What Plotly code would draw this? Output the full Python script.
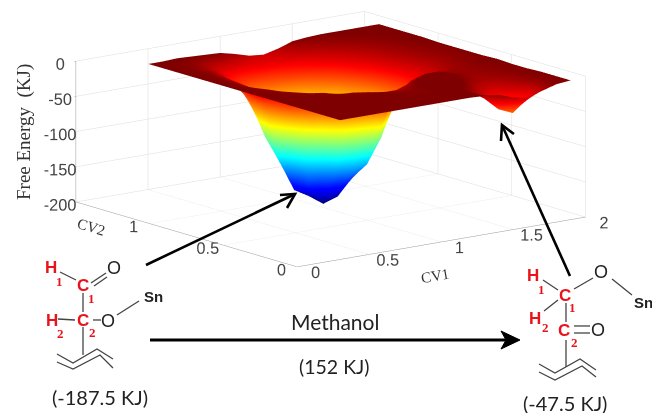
import plotly.graph_objects as go

CV1 = [0.4,0.5,0.6,0.7,0.8,0.9,1.0,1.1,1.2,1.3,1.4,1.5,1.6,1.7,1.8,1.9,2.0]
CV2 = [0.1,0.2,0.3,0.4,0.5,0.6,0.7,0.8,0.9,1.0,1.1,1.2,1.3,1.4]
FREE_ENERGY = [
 [-12,-12,-12,-12,-12,-12,-12,-12,-12,-12,-13,-15,-22,-26,-20,-14,-12],
 [-12,-12,-12,-12,-12,-12,-12,-12,-12,-12,-13,-26,-45,-54,-36,-15,-12],
 [-12,-12,-12,-12,-12,-12,-12,-13,-13,-11,-10,-15,-26,-30,-22,-14,-12],
 [-12,-12,-12,-12,-12,-12,-12,-14,-15,-10,-5,-8,-16,-20,-17,-14,-13],
 [-12,-12,-12,-12,-14,-15,-18,-22,-22,-15,-6,-6,-13,-17,-16,-14,-13],
 [-12,-12,-13,-15,-18,-26,-40,-58,-78,-40,-22,-18,-18,-17,-16,-13,-12],
 [-12,-13,-15,-20,-35,-75,-130,-145,-140,-105,-50,-45,-31,-23,-17,-14,-13],
 [-12,-13,-18,-32,-85,-165,-195,-188,-165,-115,-77,-52,-35,-25,-19,-15,-13],
 [-12,-14,-22,-50,-135,-178,-190,-180,-165,-125,-75,-50,-33,-24,-18,-15,-13],
 [-12,-13,-20,-45,-105,-138,-145,-138,-125,-100,-61,-43,-30,-22,-17,-14,-13],
 [-12,-13,-18,-32,-62,-90,-95,-90,-78,-60,-46,-33,-26,-20,-16,-13,-12],
 [-12,-13,-16,-25,-42,-52,-55,-52,-47,-40,-32,-26,-21,-17,-14,-13,-12],
 [-12,-13,-15,-20,-28,-32,-33,-32,-30,-27,-23,-19,-16,-14,-13,-12,-12],
 [-12,-12,-11,-12,-13,-14,-19,-25,-27,-22,-15,-13,-12,-12,-12,-12,-12],
]
Z_TICKS = [-200,-150,-100,-50,0]
X_TICKS = [0,0.5,1,1.5,2]
Y_TICKS = [0,0.5,1]

W, H = 652, 413
JET = [[0,"#00007f"],[0.11,"#0000ff"],[0.125,"#0000ff"],[0.375,"#00ffff"],[0.625,"#ffff00"],[0.875,"#ff0000"],[1,"#7f0000"]]

fig = go.Figure(go.Surface(
    x=CV1, y=CV2, z=FREE_ENERGY, colorscale=JET, cmin=-195, cmax=-12, showscale=False,
    lighting=dict(ambient=1, diffuse=0, specular=0, roughness=1, fresnel=0),
    hoverinfo="skip"))

def axis(vals, rng, ticklen, tickcolor):
    return dict(title=dict(text=""),
                tickvals=vals, ticktext=[f"{v:g}" for v in vals], range=rng, tickangle=0,
                tickfont=dict(family="Liberation Sans", size=14, color="#444"),
                showbackground=False, gridcolor="#dcdcdc", gridwidth=1,
                showline=True, linecolor="#999", zeroline=False, ticks="outside", ticklen=ticklen, tickcolor=tickcolor)

fig.update_layout(
    width=W, height=H, margin=dict(l=0,r=0,t=0,b=0), paper_bgcolor="white", showlegend=False,
    scene=dict(
        domain=dict(x=[0,1], y=[0,1]),
        xaxis=axis(X_TICKS, [0,2], 2, "rgba(0,0,0,0)"),
        yaxis=axis(Y_TICKS, [0,1.5], 12, "rgba(0,0,0,0)"),
        zaxis=axis(Z_TICKS, [-200,0], 4, "#999"),
        aspectmode="manual", aspectratio=dict(x=1.76,y=1.76,z=0.7),
        camera=dict(eye=dict(x=-1.798,y=-2.306,z=0.34), center=dict(x=-0.018,y=0.014,z=-0.335),
                    projection=dict(type="orthographic")),
    ))

def X(p): return p/W
def Y(p): return 1-p/H

shapes=[]; ann=[]
def line(pts, color="#444", width=1.3):
    path="M "+" L ".join(f"{X(a):.4f},{Y(b):.4f}" for a,b in pts)
    shapes.append(dict(type="path", xref="paper", yref="paper", path=path, line=dict(color=color,width=width)))
def txt(x,y,s,size,color="#222",family="Lato",bold=False,angle=0):
    ann.append(dict(x=X(x),y=Y(y),xref="paper",yref="paper",text=f"<b>{s}</b>" if bold else s,showarrow=False,textangle=angle,
                    font=dict(family=family,size=size,color=color),xanchor="center",yanchor="middle"))

txt(24,132,"Free Energy  (KJ)",19,"#333","Liberation Serif",angle=-90)
txt(91,227,"CV2",15,"#333","Liberation Serif",angle=17)
txt(435,276,"CV1",15,"#333","Liberation Serif",angle=-10)

# molecule, left
for a in [[(60,272),(76,280)],[(91,283),(106,273)],[(94,286),(107,277)],[(83,293),(83,312)],
          [(58,319),(75,320)],[(93,320),(101,320)],[(117,315),(139,301)],[(83,327),(83,355)],
          [(57,354),(73,363),(97,349),(113,359)],[(57,362),(73,369),(100,355),(113,368)]]:
    line(a)
for x,y,s,sz in [(51,267,"H",17),(83,285,"C",17),(83,320,"C",17),(52,320,"H",17)]:
    txt(x,y,s,sz,"#e8131b","Liberation Sans",True)
for x,y,s in [(59,281,"1"),(91,298,"1"),(60,333,"2"),(92,332,"2")]:
    txt(x,y,s,13,"#e8131b","Liberation Serif",True)
txt(114,268,"O",18,"#222","Liberation Sans"); txt(108,321,"O",18,"#222","Liberation Sans")
txt(153,296,"Sn",15,"#222","Liberation Sans",True)
txt(100,397,"(-187.5 KJ)",20)

# molecule, right
for a in [[(543,280),(558,290)],[(574,289),(593,278)],[(612,279),(632,295)],[(558,300),(544,311)],
          [(566,303),(566,322)],[(574,326),(590,326)],[(574,333),(590,333)],[(566,340),(566,367)],
          [(539,364),(555,373),(580,359),(596,370)],[(539,372),(555,380),(582,366),(596,377)]]:
    line(a)
for x,y,s in [(533,275,"H"),(565,295,"C"),(535,318,"H"),(564,330,"C")]:
    txt(x,y,s,17,"#e8131b","Liberation Sans",True)
for x,y,s in [(541,289,"1"),(572,307,"1"),(545,327,"2"),(574,342,"2")]:
    txt(x,y,s,13,"#e8131b","Liberation Serif",True)
txt(601,272,"O",18,"#222","Liberation Sans"); txt(598,330,"O",18,"#222","Liberation Sans")
txt(643,302,"Sn",15,"#222","Liberation Sans",True)
txt(565,403,"(-47.5 KJ)",20)

txt(335,321,"Methanol",21); txt(334,366,"(152 KJ)",19.5)

# arrows
line([(150,340),(510,340)],"#000",3.2)
shapes.append(dict(type="path",xref="paper",yref="paper",fillcolor="#000",line=dict(color="#000",width=1),
    path=f"M {X(520)},{Y(340)} L {X(501)},{Y(331)} L {X(506)},{Y(340)} L {X(501)},{Y(349)} Z"))
line([(146,265),(295,194)],"#000",2.6); line([(280,195),(295,194),(287,208)],"#000",2.6)
line([(570,276),(502,125)],"#000",2.6); line([(501,141),(502,125),(514,134)],"#000",2.6)

fig.update_layout(shapes=shapes, annotations=ann)
fig.write_html("out.html", config=dict(displayModeBar=False),
               post_script="document.body.style.margin='0';document.documentElement.style.overflow='hidden';")
